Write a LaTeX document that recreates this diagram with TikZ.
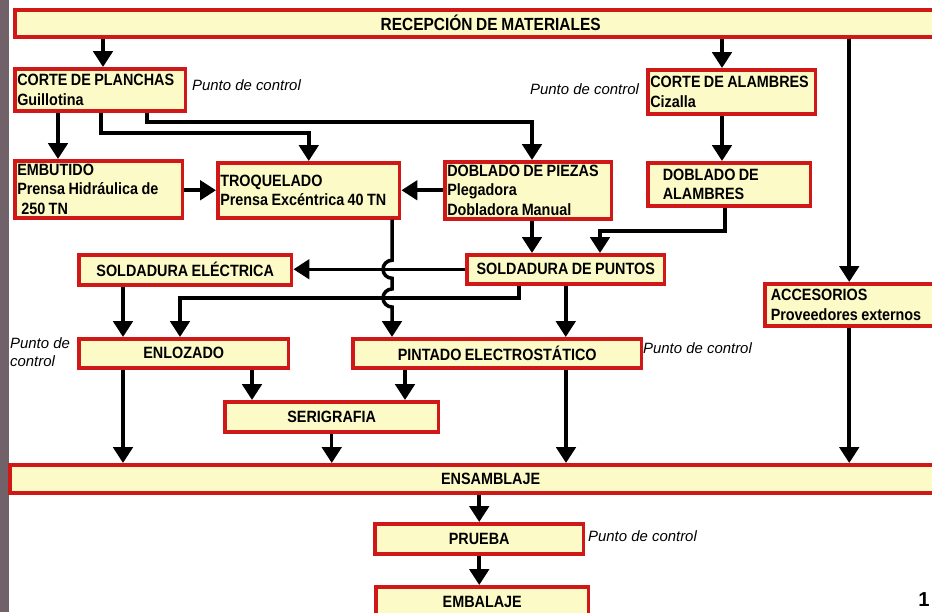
\documentclass[tikz,border=0pt]{standalone}
\usepackage{fontspec}
\setmainfont{Liberation Sans}
\newfontfamily\boxfont[FakeStretch=0.88,WordSpace=0.85]{Liberation Sans}
\usetikzlibrary{positioning,arrows.meta,calc}
\definecolor{boxred}{RGB}{208,24,24}
\definecolor{boxfill}{RGB}{252,250,198}
\definecolor{edgegray}{RGB}{112,98,104}

\tikzset{
  proc/.style={draw=boxred,fill=boxfill,line width=2pt,anchor=north west,
    inner xsep=0.05cm,inner ysep=0pt,align=center,
    font=\boxfont\fontsize{9.3}{11}\selectfont\bfseries},
  procl/.style={proc,align=flush left,
    execute at begin node={\spaceskip=0pt\xspaceskip=0pt\relax}},
  flow/.style={-{Triangle[width=11pt,length=9pt]},line width=2pt},
  ctrl/.style={inner sep=1pt,align=left,font=\fontsize{8.5}{10.5}\selectfont\itshape}
}

\begin{document}
\begin{tikzpicture}[x=0.02cm,y=-0.02cm]
  % --- page frame (pixel grid of the scan) ---
  \useasboundingbox (0,0) rectangle (932,612);
  \clip (0,0) rectangle (932,612);
  \fill[white] (0,0) rectangle (932,612);
  \fill[edgegray] (0,0) rectangle (9,612);
  % --- process boxes ---
  \node[proc,minimum width=19.04cm,minimum height=0.54cm,
        font=\boxfont\fontsize{10}{11}\selectfont\bfseries] (recep) at (13,8) {RECEPCIÓN DE MATERIALES};
  \node[procl,text width=3.32cm,minimum height=0.84cm] (planchas) at (13,67) {CORTE DE PLANCHAS\\Guillotina};
  \node[procl,text width=3.26cm,minimum height=1.14cm] (embutido) at (13,159)
       {EMBUTIDO\\Prensa Hidráulica de\\\hspace{0.25em}250 TN};
  \node[procl,text width=3.54cm,minimum height=1.10cm] (troquel) at (216,161)
       {TROQUELADO\\Prensa Excéntrica 40 TN};
  \node[procl,text width=3.24cm,minimum height=1.14cm] (piezas) at (443,160)
       {DOBLADO DE PIEZAS\\Plegadora\\Dobladora Manual};
  \node[procl,text width=3.26cm,minimum height=0.88cm] (calambres) at (646,68) {CORTE DE ALAMBRES\\Cizalla};
  \node[procl,inner xsep=0.3cm,text width=2.66cm,minimum height=0.86cm] (dalambres) at (646,161)
       {DOBLADO DE\\ALAMBRES};
  \node[proc,minimum width=4.26cm,minimum height=0.60cm] (selec) at (77,253) {SOLDADURA ELÉCTRICA};
  \node[proc,minimum width=3.96cm,minimum height=0.58cm] (spuntos) at (465,253) {SOLDADURA DE PUNTOS};
  \node[procl,inner xsep=0.12cm,text width=3.14cm,minimum height=0.84cm] (acces) at (763,282)
       {ACCESORIOS\\Proveedores externos};
  \node[proc,minimum width=4.20cm,minimum height=0.58cm] (enloz) at (77,337) {ENLOZADO};
  \node[proc,minimum width=5.78cm,minimum height=0.58cm] (pintado) at (351,337) {PINTADO ELECTROSTÁTICO};
  \node[proc,minimum width=4.28cm,minimum height=0.60cm] (serig) at (223,400) {SERIGRAFIA};
  \node[proc,minimum width=19.24cm,minimum height=0.56cm] (ensam) at (8,463) {ENSAMBLAJE};
  \node[proc,minimum width=4.18cm,minimum height=0.60cm] (prueba) at (373,522) {PRUEBA};
  \node[proc,minimum width=4.26cm,minimum height=0.60cm] (embal) at (374,585) {EMBALAJE};
  % --- control points ---
  \node[ctrl,anchor=west] (pc1) at (190,85) {Punto de control};
  \node[ctrl,anchor=east] (pc2) at (641,89) {Punto de control};
  \node[ctrl,anchor=west] (pc3) at (8,352) {Punto de\\control};
  \node[ctrl,anchor=west] (pc4) at (641,348) {Punto de control};
  \node[ctrl,anchor=west] (pc5) at (586,536) {Punto de control};
  \node[font=\fontsize{11.5}{12}\selectfont\bfseries] (pnum) at (924,600) {1};
  % --- columns and elbows of the connectors ---
  \coordinate (xa) at (103,0);
  \coordinate (xb) at (722,0);
  \coordinate (xe) at (58,0);
  \coordinate (xd) at (532,0);
  \coordinate (xt) at (392,0);
  \coordinate (xl) at (123,0);
  \coordinate (xm) at (252,0);
  \coordinate (xn) at (405,0);
  \coordinate (xq) at (566,0);
  \coordinate (kT) at (101,133);
  \coordinate (kP1) at (147,122);
  \coordinate (kP2) at (532,122);
  \coordinate (kS1) at (725,231);
  \coordinate (kS2) at (600,231);
  \coordinate (kE1) at (519,298);
  \coordinate (kE2) at (180,298);
  % --- flows ---
  \draw[flow] (recep.south -| xa) -- (planchas.north -| xa);
  \draw[flow] (recep.south -| xb) -- (calambres.north -| xb);
  \draw[flow] (recep.south -| acces.north) -- (acces.north);
  \draw[flow] (planchas.south -| xe) -- (embutido.north -| xe);
  \draw[flow] (planchas.south -| kT) -- (kT) -- (kT -| troquel.north) -- (troquel.north);
  \draw[flow] (planchas.south -| kP1) -- (kP1) -- (kP2) -- (piezas.north -| kP2);
  \draw[flow] (embutido.east |- troquel.west) -- (troquel.west);
  \draw[flow] (piezas.west |- troquel.east) -- (troquel.east);
  \draw[flow] (calambres.south -| xb) -- (dalambres.north -| xb);
  \draw[flow] (piezas.south -| xd) -- (spuntos.north -| xd);
  \draw[flow] (dalambres.south -| kS1) -- (kS1) -- (kS2) -- (spuntos.north -| kS2);
  \draw[flow] (spuntos.west) -- (selec.east |- spuntos.west);
  \draw[flow] (spuntos.south -| kE1) -- (kE1) -- (kE2) -- (enloz.north -| kE2);
  \draw[flow] (spuntos.south) -- (pintado.north -| spuntos.south);
  % troquelado goes down, hopping over both horizontal lines
  \draw[flow] (troquel.south -| xt) -- ($(xt |- spuntos.west)+(0,-9)$)
    arc[start angle=-90,end angle=-270,radius=9] -- ($(xt |- kE1)+(0,-9)$)
    arc[start angle=-90,end angle=-270,radius=9] -- (pintado.north -| xt);
  \draw[flow] (selec.south -| xl) -- (enloz.north -| xl);
  \draw[flow] (enloz.south -| xl) -- (ensam.north -| xl);
  \draw[flow] (enloz.south -| xm) -- (serig.north -| xm);
  \draw[flow] (pintado.south -| xn) -- (serig.north -| xn);
  \draw[flow] (serig.south) -- (ensam.north -| serig.south);
  \draw[flow] (pintado.south -| xq) -- (ensam.north -| xq);
  \draw[flow] (acces.south) -- (ensam.north -| acces.south);
  \draw[flow] (ensam.south -| prueba.north) -- (prueba.north);
  \draw[flow] (prueba.south) -- (embal.north -| prueba.south);
\end{tikzpicture}
\end{document}
